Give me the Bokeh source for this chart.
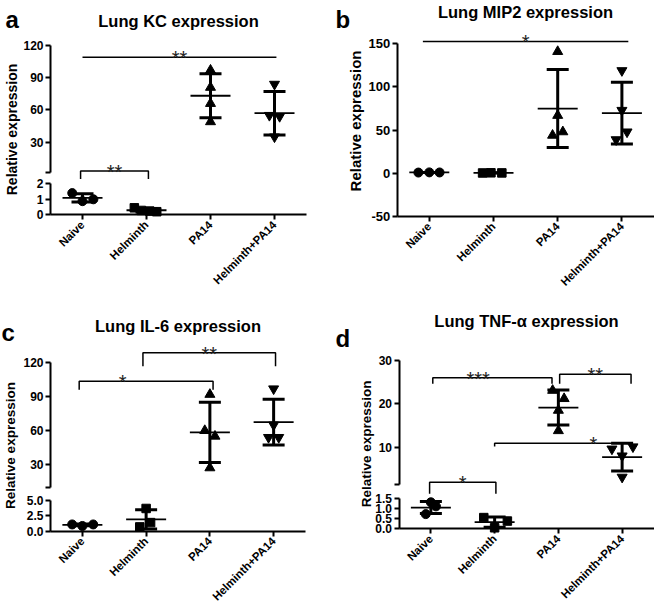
import numpy as np
from math import pi
from bokeh.plotting import figure
from bokeh.models import Range1d, LinearAxis, FixedTicker, Label, NumeralTickFormatter
from bokeh.layouts import column, row
from bokeh.embed import file_html
from bokeh.resources import INLINE
from bokeh.core.properties import value

FONT = "Liberation Sans"

categories = ["Naive", "Helminth", "PA14", "Helminth+PA14"]
markers = ["circle", "square", "triangle", "inverted_triangle"]
marker_sizes = [9, 8.5, 10, 10]

# Lung KC expression
kc_naive = [1.40, 0.88, 1.00]
kc_helminth = [0.45, 0.28, 0.24, 0.20]
kc_pa14 = [97, 81, 66, 49]
kc_helminth_pa14 = [84, 55, 54, 35]

# Lung MIP2 expression
mip2_naive = [0.9, 1.1, 1.0]
mip2_helminth = [0.4, 0.6, 0.5]
mip2_pa14 = [141, 67, 44, 48]
mip2_helminth_pa14 = [119, 73, 48, 39]

# Lung IL-6 expression
il6_naive = [1.10, 0.85, 1.10]
il6_helminth = [3.7, 1.4, 0.7]
il6_pa14 = [92, 60, 55, 27]
il6_helminth_pa14 = [97, 65, 54, 54]

# Lung TNF-α expression
tnf_naive = [1.30, 1.10, 0.72]
tnf_helminth = [0.55, 0.38, 0.05]
tnf_pa14 = [23.1, 21.2, 18.5, 13.8]
tnf_helminth_pa14 = [9.6, 10.1, 8.0, 3.1]

# horizontal spread of the points inside each column (x units)
kc_spread = [[-0.16, 0.0, 0.17], [-0.19, -0.08, 0.05, 0.16], [0, 0, 0, 0], [0, -0.08, 0.08, 0]]
mip2_spread = [[-0.17, 0.0, 0.16], [-0.17, -0.04, 0.13], [0, 0, -0.08, 0.08], [0, 0, 0.08, -0.09]]
il6_spread = [[-0.16, 0.0, 0.17], [0.0, 0.07, -0.1], [0, -0.08, 0.08, 0], [0, 0, -0.08, 0.08]]
tnf_spread = [[0.0, 0.08, -0.08], [-0.17, 0.2, 0.0], [-0.09, 0.09, 0, 0], [-0.16, 0.17, 0, 0]]

# significance brackets: (x1, x2, y, left tick end, right tick end, label, segment, label x)
kc_sig = [(1.0, 4.03, 109.1, None, None, "**", "up", None),
          (0.97, 2.03, 2.83, 2.31, 2.31, "**", "default", None)]
mip2_sig = [(0.9, 4.1, 152.7, None, None, "*", "default", None)]
il6_sig = [(0.95, 3.05, 103.7, 96.1, 96.1, "*", "up", 1.63),
           (1.95, 4.03, 128.85, 117.0, 117.0, "**", "up", None)]
tnf_sig = [(1.03, 2.9, 26.0, 24.62, 24.62, "***", "up", 1.74),
           (3.02, 4.14, 26.85, 24.62, 24.62, "**", "up", None),
           (2.0, 4.07, 10.92, 10.16, None, "*", "up", 3.55),
           (0.98, 2.02, 2.28, 1.716, 1.716, "*", "default", None)]

panels = [
    dict(letter="a", title="Lung KC expression",
         groups=[kc_naive, kc_helminth, kc_pa14, kc_helminth_pa14], spread=kc_spread,
         group_range=["default", "default", "up", "up"],
         box=(0, 0, 330, 305), xspan=(50, 306), xaxis_at=0,
         anchors={"default": (2, 183.3, 0, 214.3), "up": (120, 45, 30, 141.7)},
         axes=[("default", (0, 2), [0, 1, 2], None, "0"),
               ("up", (2, 120), [2, 30, 60, 90, 120], 2, "0")],
         tick_font="12px", ylabel_font="14px", ylabel_pos=(11, 129),
         title_pos=(178, 20), letter_pos=(5, 18.5), brackets=kc_sig),
    dict(letter="b", title="Lung MIP2 expression",
         groups=[mip2_naive, mip2_helminth, mip2_pa14, mip2_helminth_pa14], spread=mip2_spread,
         group_range=["default"] * 4,
         box=(330, 0, 324, 305), xspan=(396.7, 653.5), xaxis_at=-50,
         anchors={"default": (150, 43.3, -50, 216)},
         axes=[("default", (-50, 150), [-50, 0, 50, 100, 150], None, "0")],
         tick_font="13px", ylabel_font="15px", ylabel_pos=(355, 120.5),
         title_pos=(525, 11.5), letter_pos=(335, 19), brackets=mip2_sig),
    dict(letter="c", title="Lung IL-6 expression",
         groups=[il6_naive, il6_helminth, il6_pa14, il6_helminth_pa14], spread=il6_spread,
         group_range=["default", "default", "up", "up"],
         box=(0, 305, 330, 298), xspan=(50, 305), xaxis_at=0,
         anchors={"default": (5, 500, 0, 530.7), "up": (120, 362.3, 30, 464)},
         axes=[("default", (0, 5), [0, 2.5, 5], None, "0.0"),
               ("up", (10, 120), [10, 30, 60, 90, 120], 10, "0")],
         tick_font="12px", ylabel_font="13.5px", ylabel_pos=(10, 445),
         title_pos=(177.5, 325), letter_pos=(1, 331.5), brackets=il6_sig),
    dict(letter="d", title="Lung TNF-α expression",
         groups=[tnf_naive, tnf_helminth, tnf_pa14, tnf_helminth_pa14], spread=tnf_spread,
         group_range=["default", "default", "up", "up"],
         box=(330, 305, 324, 298), xspan=(398.5, 653.5), xaxis_at=0,
         anchors={"default": (1.5, 497.7, 0, 528.3), "up": (30, 360, 10, 446.7)},
         axes=[("default", (0, 1.5), [0, 0.5, 1, 1.5], None, "0.0"),
               ("up", (1.5, 30), [1.5, 10, 20, 30], 1.5, "0")],
         tick_font="12px", ylabel_font="13.5px", ylabel_pos=(366, 443.3),
         title_pos=(526, 320), letter_pos=(335, 338.3), brackets=tnf_sig),
]


def lin(v1, p1, v2, p2):
    k = (v2 - v1) / (p2 - p1)
    return lambda p: v1 + (p - p1) * k


def style_axis(ax, font_size):
    ax.axis_line_width = 2
    ax.axis_line_color = "black"
    ax.major_tick_line_width = 2
    ax.major_tick_line_color = "black"
    ax.major_tick_out = 5
    ax.major_tick_in = 0
    ax.minor_tick_line_color = None
    ax.major_label_text_font = FONT
    ax.major_label_text_font_style = "bold"
    ax.major_label_text_font_size = font_size
    ax.major_label_text_color = "black"


def make_panel(s):
    bl, bt, bw, bh = s["box"]
    fl, fr = s["xspan"]
    xmap = lin(0.5, fl, 4.5, fr)
    ppu = (fr - fl) / 4.0
    maps, ranges = {}, {}
    for name, (v1, p1, v2, p2) in s["anchors"].items():
        f = lin(v1, p1, v2, p2)
        maps[name] = f
        ranges[name] = Range1d(f(bt + bh), f(bt))
    p = figure(width=bw, height=bh, x_range=Range1d(xmap(bl), xmap(bl + bw)),
               y_range=ranges["default"], output_backend="svg", toolbar_location=None,
               x_axis_location=None, y_axis_location=None, title=None,
               min_border_left=0, min_border_right=0, min_border_top=0, min_border_bottom=0)
    extra = {k: v for k, v in ranges.items() if k != "default"}
    if extra:
        p.extra_y_ranges = extra
    p.grid.visible = False
    p.outline_line_color = None
    p.background_fill_color = "white"
    p.border_fill_color = "white"

    # category axis
    xa = LinearAxis(fixed_location=s["xaxis_at"], bounds=(0.5, 4.5),
                    ticker=FixedTicker(ticks=[1, 2, 3, 4]),
                    major_label_overrides={i + 1: c for i, c in enumerate(categories)},
                    major_label_orientation=pi / 4)
    style_axis(xa, "11.5px")
    xa.major_label_standoff = 3
    p.add_layout(xa, "below")

    # (broken) value axis
    for name, bounds, ticks, hide, fmt in s["axes"]:
        ax = LinearAxis(y_range_name=name, bounds=bounds, fixed_location=0.5,
                        ticker=FixedTicker(ticks=ticks),
                        formatter=NumeralTickFormatter(format=fmt))
        if hide is not None:
            ax.major_label_overrides = {hide: ""}
        style_axis(ax, s["tick_font"])
        ax.major_label_standoff = 2
        p.add_layout(ax, "left")

    # points, means and SD bars
    for i, vals in enumerate(s["groups"]):
        rng = s["group_range"][i]
        cx = i + 1
        xs = [cx + o for o in s["spread"][i]]
        p.scatter(xs, vals, marker=markers[i], size=marker_sizes[i],
                  fill_color="black", line_color="black", y_range_name=rng)
        m = float(np.mean(vals))
        sd = float(np.std(vals, ddof=1))
        p.segment(x0=[cx - 20 / ppu], y0=[m], x1=[cx + 20 / ppu], y1=[m],
                  line_color="black", line_width=1.8, y_range_name=rng)
        cw = 11 / ppu
        p.segment(x0=[cx, cx - cw, cx - cw], y0=[m - sd, m + sd, m - sd],
                  x1=[cx, cx + cw, cx + cw], y1=[m + sd, m + sd, m - sd],
                  line_color="black", line_width=3, y_range_name=rng)

    # significance brackets
    for x1, x2, yt, yl, yr, lab, rng, lx in s["brackets"]:
        xs, ys = [], []
        if yl is not None:
            xs.append(x1); ys.append(yl)
        xs += [x1, x2]; ys += [yt, yt]
        if yr is not None:
            xs.append(x2); ys.append(yr)
        p.line(xs, ys, line_color="black", line_width=1.5, y_range_name=rng)
        p.text(x=[lx if lx is not None else (x1 + x2) / 2], y=[yt], text=[lab],
               text_font=value(FONT), text_font_size=value("20px"), text_color="#222222",
               text_align="center", text_baseline="alphabetic", y_offset=1,
               y_range_name=rng)

    ymap = maps["default"]
    # y axis title
    yx, yy = s["ylabel_pos"]
    p.add_layout(Label(x=xmap(yx), y=ymap(yy), text="Relative expression", angle=pi / 2,
                       text_align="center", text_baseline="middle", text_font=FONT,
                       text_font_style="bold", text_font_size=s["ylabel_font"], text_color="black"))
    # chart title
    tx, ty = s["title_pos"]
    p.add_layout(Label(x=xmap(tx), y=ymap(ty), text=s["title"], text_align="center",
                       text_baseline="middle", text_font=FONT, text_font_style="bold",
                       text_font_size="16.5px", text_color="black"))
    # panel letter
    lxp, lyp = s["letter_pos"]
    p.add_layout(Label(x=xmap(lxp), y=ymap(lyp), text=s["letter"], text_align="left",
                       text_baseline="alphabetic", text_font=FONT, text_font_style="bold",
                       text_font_size="24px", text_color="black"))
    return p


figs = [make_panel(s) for s in panels]
layout = column(row(figs[0], figs[1]), row(figs[2], figs[3]))

with open("out.html", "w") as fh:
    fh.write(file_html(layout, INLINE))
